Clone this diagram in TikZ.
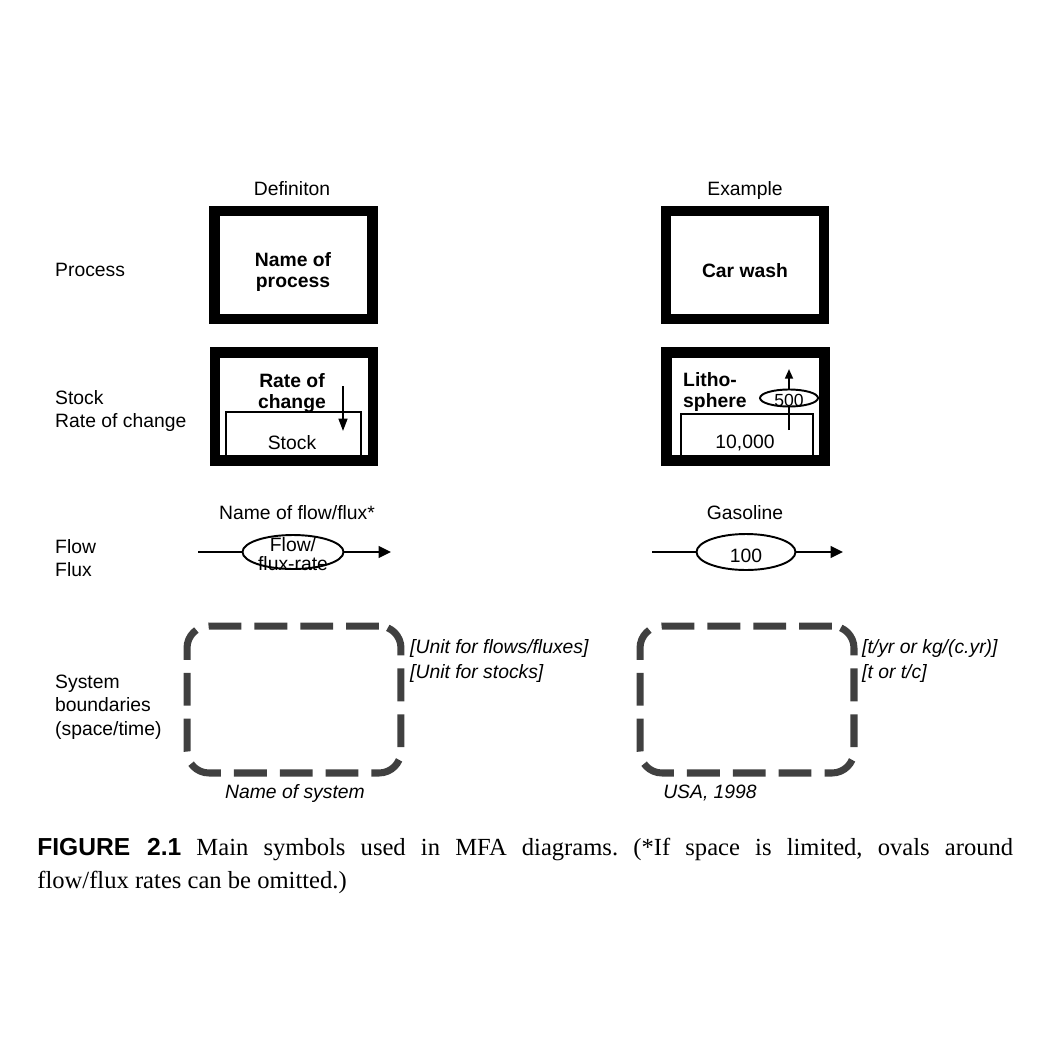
\documentclass[tikz,border=0pt]{standalone}
\usepackage{fontspec}
\setmainfont{Liberation Sans}
\newfontfamily\capfont{Liberation Serif}
\usepackage{tikz}
\usetikzlibrary{shapes,arrows,arrows.meta,positioning}
\frenchspacing

\begin{document}
\begin{tikzpicture}[x=0.02cm,y=-0.02cm,
    txt/.style={font=\fontsize{11}{13.5}\selectfont},
    sidelabel/.style={txt,align=left,anchor=west},
    boldtxt/.style={font=\fontsize{11}{12}\selectfont\bfseries,align=center},
    procbox/.style={draw,line width=6.2pt,minimum width=3.16cm,minimum height=2.16cm,inner sep=0pt},
    stockline/.style={line width=1.5pt},
    oval/.style={draw,ellipse,line width=1.1pt,inner sep=0pt},
    flowline/.style={line width=1.5pt},
    boundary/.style={draw=black!75,line width=4pt,rounded corners=0.44cm,dash pattern=on 18.7pt off 7.4pt,minimum width=4.28cm,minimum height=2.94cm},
    unit/.style={font=\fontsize{11}{13.5}\selectfont\itshape,anchor=west}]
    \useasboundingbox (0,0) rectangle (1045,1045);

    % Column headers
    \node[txt,anchor=base] (defhead) at (292,195) {Definiton};
    \node[txt,anchor=base] (exhead) at (745,195) {Example};

    % Row labels
    \node[sidelabel] (processlbl) at (49,270) {Process};
    \node[sidelabel] (stocklbl) at (49,411) {Stock\\Rate of change};
    \node[sidelabel] (flowlbl) at (49,558) {Flow\\Flux};
    \node[sidelabel] (systemlbl) at (49,707) {System\\boundaries\\(space/time)};

    % Process
    \node[procbox] (procdef) at (293.5,265) {};
    \node[boldtxt] (procdeftxt) at (293,272) {Name of\\process};
    \node[procbox] (procex) at (745,265) {};
    \node[boldtxt] (procextxt) at (745,271) {Car wash};

    % Stock
    \draw[stockline] (226,458) |- (361,412) -- (361,458);
    \node[procbox] (stockdef) at (294,406.5) {};
    \node[boldtxt] (ratedeftxt) at (292,393) {Rate of\\change};
    \node[txt] (stockdeftxt) at (292,443) {Stock};
    \coordinate (ratetop) at (343,386);
    \coordinate (ratetip) at (343,431);
    \draw[line width=1.1pt,-{Triangle[length=7pt,width=5pt]}] (ratetop) -- (ratetip);

    \draw[stockline] (681,458) |- (813,414) -- (813,458);
    \node[procbox] (stockex) at (745.5,406.5) {};
    \node[boldtxt,align=left,anchor=west] (lithotxt) at (677,392) {Litho-\\sphere};
    \node[oval,minimum width=1.16cm,minimum height=0.34cm] (lithorate) at (789,398) {};
    \node[font=\fontsize{10}{12}\selectfont] (lithoval) at (789,400) {500};
    \coordinate (lithobase) at (789,430);
    \coordinate (lithotip) at (789,369);
    \draw[line width=1.1pt] (lithobase) -- (lithorate);
    \draw[line width=1.1pt,-{Triangle[length=5.5pt,width=4.5pt]}] (lithorate) -- (lithotip);
    \node[txt] (stockextxt) at (745,443) {10,000};

    % Flow
    \node[txt] (flowdefname) at (297,513) {Name of flow/flux*};
    \coordinate (flowdefin) at (198,552);
    \node[oval,minimum width=2.02cm,minimum height=0.68cm] (flowdefrate) at (293,552) {};
    \coordinate (flowdefout) at (391,552);
    \draw[flowline] (flowdefin) -- (flowdefrate);
    \draw[flowline,-{Triangle[length=7pt,width=6.5pt]}] (flowdefrate) -- (flowdefout);
    \node[align=center,font=\fontsize{11}{10.5}\selectfont] (flowdeftxt) at (293,554) {Flow/\\flux-rate};

    \node[txt] (flowexname) at (745,513) {Gasoline};
    \coordinate (flowexin) at (652,552);
    \node[oval,minimum width=1.98cm,minimum height=0.72cm] (flowexrate) at (746,552) {};
    \coordinate (flowexout) at (843,552);
    \draw[flowline] (flowexin) -- (flowexrate);
    \draw[flowline,-{Triangle[length=7pt,width=6.5pt]}] (flowexrate) -- (flowexout);
    \node[txt] (flowexval) at (746,556) {100};

    % System boundaries
    \node[boundary] (sysdef) at (294,699.5) {};
    \node[unit] (unitflowdef) at (404,648) {[Unit for flows/fluxes]};
    \node[unit] (unitstockdef) at (404,673) {[Unit for stocks]};
    \node[unit,anchor=center] (sysdefname) at (295,793) {Name of system};

    \node[boundary] (sysex) at (747,699.5) {};
    \node[unit] (unitflowex) at (856,648) {[t/yr or kg/(c.yr)]};
    \node[unit] (unitstockex) at (856,673) {[t or t/c]};
    \node[unit,anchor=center] (sysexname) at (710,793) {USA, 1998};

    % Caption
    \node[anchor=north west,text width=19.52cm,align=justify,inner sep=0pt,font=\capfont\fontsize{14}{18.8}\selectfont] (caption) at (37,838) {{\normalfont\bfseries FIGURE 2.1} Main symbols used in MFA diagrams. (*If space is limited, ovals around\linebreak flow/flux rates can be omitted.)};
\end{tikzpicture}
\end{document}
